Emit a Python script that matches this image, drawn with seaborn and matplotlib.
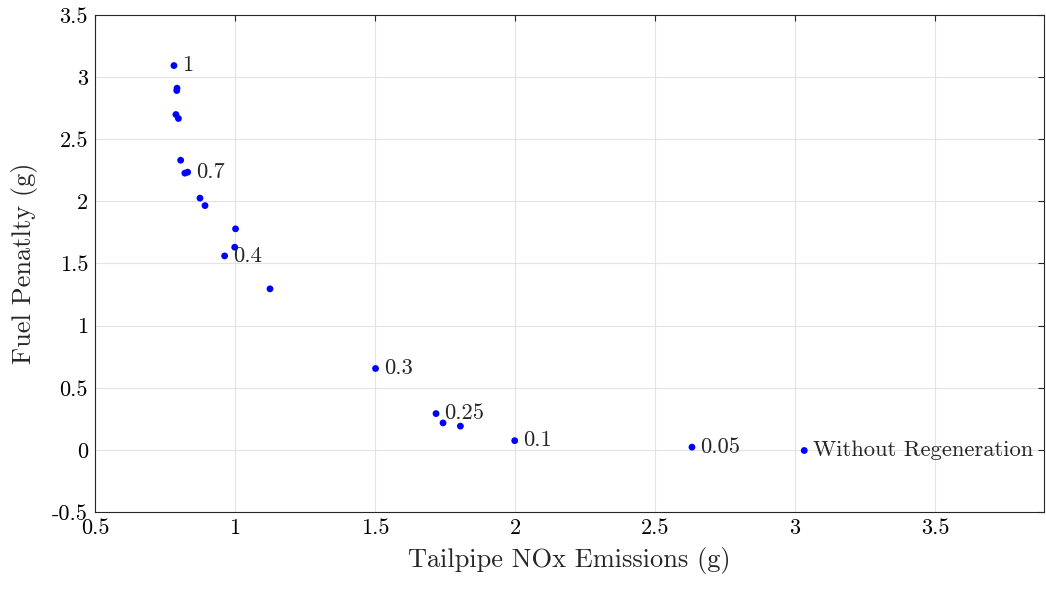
import pandas as pd
import matplotlib
matplotlib.use("Agg")
import matplotlib.pyplot as plt
import seaborn as sns
from matplotlib.ticker import FuncFormatter, MultipleLocator

# datos
nox = [0.782, 0.793, 0.792, 0.789, 0.798, 0.806, 0.821, 0.831, 0.875, 0.893,
       1.002, 0.999, 0.963, 1.125, 1.502, 1.718, 1.743, 1.805, 1.999, 2.632, 3.033]
fuel = [3.093, 2.911, 2.892, 2.699, 2.667, 2.331, 2.227, 2.235, 2.026, 1.966,
        1.779, 1.631, 1.561, 1.296, 0.655, 0.292, 0.217, 0.191, 0.074, 0.022, -0.005]
etiquetas = ['1', '', '', '', '', '', '', '0.7', '', '',
             '', '', '0.4', '', '0.3', '0.25', '', '', '0.1', '0.05', 'Without Regeneration']

df = pd.DataFrame({'nox': nox, 'fuel': fuel, 'etiqueta': etiquetas})

sns.set_style('white')
plt.rcParams['font.family'] = ['cmr10', 'DejaVu Serif']
plt.rcParams['mathtext.fontset'] = 'cm'
plt.rcParams['axes.unicode_minus'] = False

fig = plt.figure(figsize=(10.46, 5.9), dpi=100)
ax = fig.add_axes([0.0908, 0.1322, 0.9075, 0.8424])

sns.scatterplot(data=df, x='nox', y='fuel', color='blue', s=24, edgecolor='none', ax=ax, zorder=3)

for _, row in df.iterrows():
    if row['etiqueta']:
        ax.annotate(row['etiqueta'], (row['nox'], row['fuel']), xytext=(6, 0),
                    textcoords='offset points', va='center', ha='left', fontsize=16.3)

ax.set_xlim(0.5, 3.89)
ax.set_ylim(-0.5, 3.5)
ax.xaxis.set_major_locator(MultipleLocator(0.5))
ax.yaxis.set_major_locator(MultipleLocator(0.5))
fmt = FuncFormatter(lambda v, p: f'{v:g}')
ax.xaxis.set_major_formatter(fmt)
ax.yaxis.set_major_formatter(fmt)

ax.grid(True, color='#e3e3e3', linewidth=0.8)
ax.set_axisbelow(True)
for sp in ax.spines.values():
    sp.set_color('#262626')
    sp.set_linewidth(0.8)
ax.tick_params(direction='in', length=4, width=0.8, labelsize=16, colors='#262626',
               top=True, right=True, labelcolor='black', pad=5)

ax.set_xlabel('Tailpipe NOx Emissions (g)', fontsize=19, labelpad=6)
ax.set_ylabel('Fuel Penatlty (g)', fontsize=19, labelpad=10)

fig.savefig('out.png', dpi=100)
